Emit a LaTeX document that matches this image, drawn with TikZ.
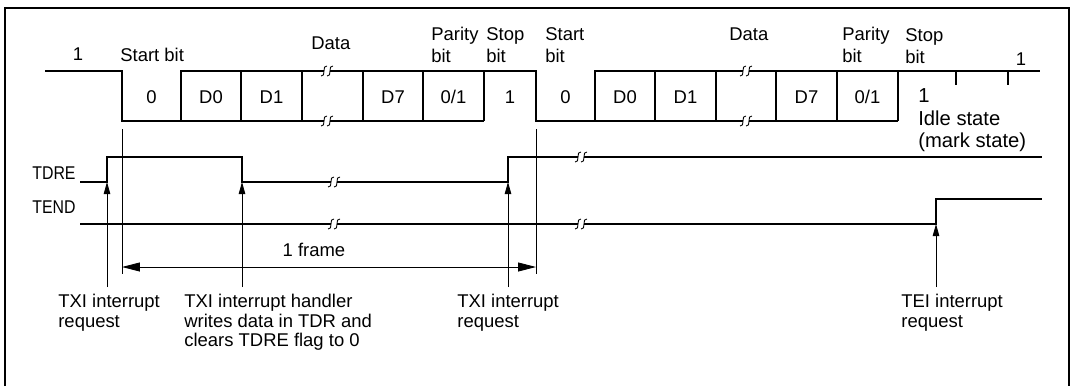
\documentclass[tikz,border=0pt]{standalone}
\usepackage{fontspec}
\setmainfont{Liberation Sans}
\usetikzlibrary{arrows.meta}

\tikzset{
  sig/.style={line width=0.9pt},
  guide/.style={line width=0.5pt},
  txt/.style={inner sep=0pt, font=\fontsize{10.5}{12.5}\selectfont, align=left},
  note/.style={inner sep=0pt, font=\fontsize{10.5}{11.1}\selectfont, align=left, anchor=north west},
  irq/.style={guide, -{Triangle[length=0.24cm,width=0.13cm]}},
  span/.style={guide, {Triangle[length=0.36cm,width=0.18cm]}-{Triangle[length=0.36cm,width=0.18cm]}},
}

\begin{document}
\begin{tikzpicture}[x=0.02cm, y=-0.02cm]
    \useasboundingbox (0,0) rectangle (1072,386);
    % outer frame, open at the bottom
    \draw[line width=1.1pt] (5,386) -- (5,8) -- (1069,8) -- (1069,386);

    % serial data line
    \draw[sig] (45,71) -- (122,71) -- (122,121) -- (484,121);
    \draw[sig] (181,121) -- (181,71) -- (536,71) -- (536,121) -- (898,121);
    \draw[sig] (595,121) -- (595,71) -- (1040,71);
    \foreach \x in {241,302,363,423,484,655,716,776,837,898}{
      \draw[sig] (\x,71) -- (\x,121);
    }
    \foreach \x in {956,1008}{
      \draw[sig] (\x,71) -- (\x,85);
    }
    \foreach \x/\t [count=\i] in {151.5/0, 211/D0, 271.5/D1, 393/D7, 453.5/{0/1}, 510/1,
                                  565.5/0, 625/D0, 685.5/D1, 806.5/D7, 867.5/{0/1}}{
      \node[txt, anchor=base] (bit\i) at (\x,103) {\t};
    }

    % labels above the data line
    \node[txt, anchor=base] (mark1) at (78,60) {1};
    \node[txt, anchor=base west] (start1) at (120,61) {Start bit};
    \node[txt, anchor=base west] (data1) at (311,49) {Data};
    \node[txt, anchor=north west] (parity1) at (431,27) {Parity\\bit};
    \node[txt, anchor=north west] (stop1) at (486,27) {Stop\\bit};
    \node[txt, anchor=north west] (start2) at (545,27) {Start\\bit};
    \node[txt, anchor=base west] (data2) at (729,40) {Data};
    \node[txt, anchor=north west] (parity2) at (842,27) {Parity\\bit};
    \node[txt, anchor=north west] (stop2) at (905,28) {Stop\\bit};
    \node[txt, anchor=base] (mark2) at (1021,65) {1};
    \node[txt, anchor=north west, font=\fontsize{11.5}{13}\selectfont] (idle) at (918,88) {1\\Idle state\\(mark state)};

    % flags
    \node[txt, anchor=base west] (tdre) at (32,179) {\scalebox{0.86}[1]{TDRE}};
    \draw[sig] (80,182) -- (107,182) -- (107,157) -- (242,157) -- (242,182) -- (508,182) -- (508,157) -- (1042,157);
    \node[txt, anchor=base west] (tend) at (32,213) {\scalebox{0.86}[1]{TEND}};
    \draw[sig] (80,224) -- (936,224) -- (936,199) -- (1042,199);

    % omitted parts
    \foreach \cx/\cy in {327/71, 327/121, 746/71, 746/121, 334/182, 334/224, 581/157, 581/224}{
      \fill[white] (\cx-3,\cy-1.5) rectangle (\cx+3,\cy+1.5);
      \foreach \sx in {-3,3}{
        \draw[guide] (\cx+\sx-3,\cy+5) .. controls (\cx+\sx+2.5,\cy+6.5) and (\cx+\sx-2.5,\cy-6.5) .. (\cx+\sx+3,\cy-5);
      }
    }

    % one frame
    \draw[guide] (122,129) -- (122,274);
    \draw[guide] (536,129) -- (536,274);
    \coordinate (fs) at (122,267);
    \coordinate (fe) at (536,267);
    \draw[span] (fs) -- (fe);
    \node[txt, anchor=base] (frame) at (314,256) {1 frame};

    % interrupt requests
    \foreach \x/\y/\n in {107/182/a, 242/182/b, 508/182/c, 936/224/d}{
      \coordinate (irq\n) at (\x,\y);
      \coordinate (foot\n) at (\x,287);
      \draw[irq] (foot\n) -- (irq\n);
    }
    \node[note] (txi1) at (58,294) {TXI interrupt\\request};
    \node[note] (handler) at (184,294) {TXI interrupt handler\\writes data in TDR and\\clears TDRE flag to 0};
    \node[note] (txi2) at (457,294) {TXI interrupt\\request};
    \node[note] (tei) at (901,294) {TEI interrupt\\request};
\end{tikzpicture}
\end{document}
